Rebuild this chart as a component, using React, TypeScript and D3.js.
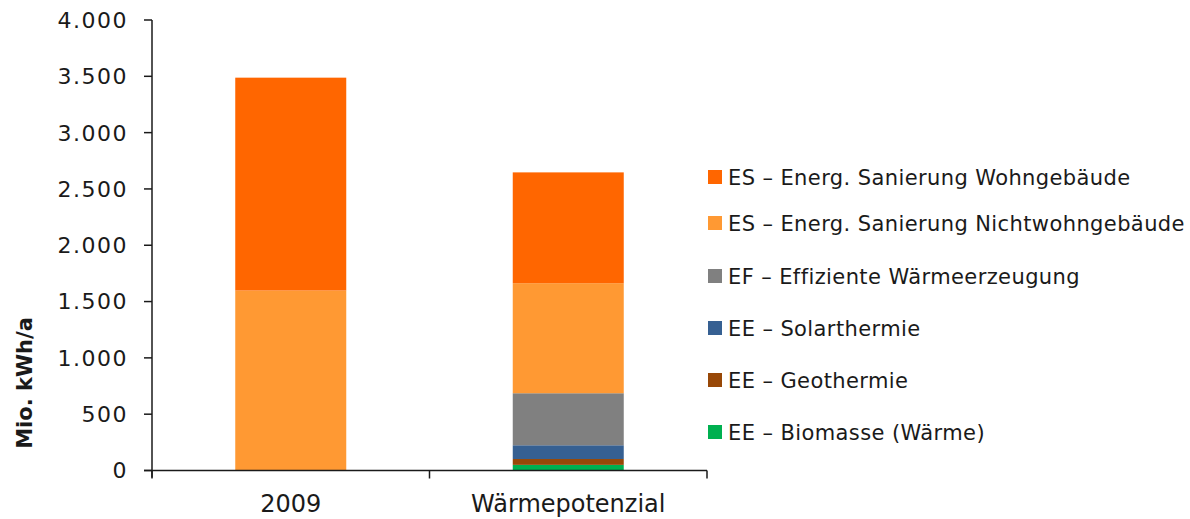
import React from "react";
import * as d3 from "d3";

const categories = ["2009", "Wärmepotenzial"];
const seriesNames = [
  "EE – Biomasse (Wärme)",
  "EE – Geothermie",
  "EE – Solarthermie",
  "EF – Effiziente Wärmeerzeugung",
  "ES – Energ. Sanierung Nichtwohngebäude",
  "ES – Energ. Sanierung Wohngebäude",
];
const seriesColors = ["#00B050", "#984807", "#366092", "#808080", "#FF9933", "#FF6600"];
const biomasse = [0, 50];
const geothermie = [0, 52];
const solarthermie = [0, 122];
const effizient = [0, 462];
const nichtwohn = [1598, 977];
const wohn = [1890, 984];
const yTicks = [0, 500, 1000, 1500, 2000, 2500, 3000, 3500, 4000];
const legendOrder = [5, 4, 3, 2, 1, 0];

const fmt = (v: number) => d3.format(",")(v).replace(/,/g, ".");

export default function App() {
  const W = 1190, H = 519;
  const x0 = 152, x1 = 707, yTop = 20, yBot = 470.5;
  const x = d3.scaleBand<string>().domain(categories).range([x0, x1]).paddingInner(0.6).paddingOuter(0.3);
  const y = d3.scaleLinear().domain([0, 4000]).range([yBot, yTop]);
  const seriesVals = [biomasse, geothermie, solarthermie, effizient, nichtwohn, wohn];
  const rows = categories.map((c, i) => {
    const r: any = { cat: c };
    seriesNames.forEach((s, j) => (r[s] = seriesVals[j][i]));
    return r;
  });
  const stacked = d3.stack<any>().keys(seriesNames)(rows);
  const step = x.step();
  const bounds = [x0, ...categories.map((c) => (x(c) as number) + x.bandwidth() + (step * 0.6) / 2)];
  const font = "'DejaVu Sans', sans-serif";
  const textCol = "#1a1a1a";
  const legendY = [177, 223, 276, 328, 380, 432];

  return (
    <svg width={W} height={H} style={{ position: "absolute", left: 0, top: 0, background: "#fff" }}>
      {stacked.map((s, j) => (
        <g key={s.key} fill={seriesColors[j]}>
          {s.map((d, i) => {
            const h = y(d[0]) - y(d[1]);
            if (h <= 0) return null;
            return <rect key={i} x={x(categories[i])} width={x.bandwidth()} y={y(d[1])} height={h} />;
          })}
        </g>
      ))}
      {/* y axis */}
      <line x1={x0} x2={x0} y1={yTop} y2={yBot + 7} stroke={textCol} strokeWidth={1.5} />
      {yTicks.map((t) => (
        <g key={t}>
          <line x1={x0 - 8} x2={x0} y1={y(t)} y2={y(t)} stroke={textCol} strokeWidth={1.5} />
          <text x={128} y={y(t)} dy="0.36em" textAnchor="end" fontFamily={font} fontSize={22} letterSpacing={1.5} fill={textCol}>
            {fmt(t)}
          </text>
        </g>
      ))}
      {/* x axis */}
      <line x1={x0 - 8} x2={x1} y1={yBot} y2={yBot} stroke={textCol} strokeWidth={1.5} />
      {bounds.map((b, i) => (
        <line key={i} x1={b} x2={b} y1={yBot} y2={yBot + 8} stroke={textCol} strokeWidth={1.5} />
      ))}
      {categories.map((c) => (
        <text key={c} x={(x(c) as number) + x.bandwidth() / 2} y={512} textAnchor="middle" fontFamily={font} fontSize={24} fill={textCol}>
          {c}
        </text>
      ))}
      <text transform={`translate(32,383) rotate(-90)`} textAnchor="middle" fontFamily={font} fontSize={21} fontWeight="bold" fill={textCol}>
        Mio. kWh/a
      </text>
      {legendOrder.map((j, k) => (
        <g key={j}>
          <rect x={708} y={legendY[k] - 7} width={14} height={14} fill={seriesColors[j]} />
          <text x={728} y={legendY[k]} dy="0.36em" fontFamily={font} fontSize={21} letterSpacing={0.4} fill={textCol}>
            {seriesNames[j]}
          </text>
        </g>
      ))}
    </svg>
  );
}
